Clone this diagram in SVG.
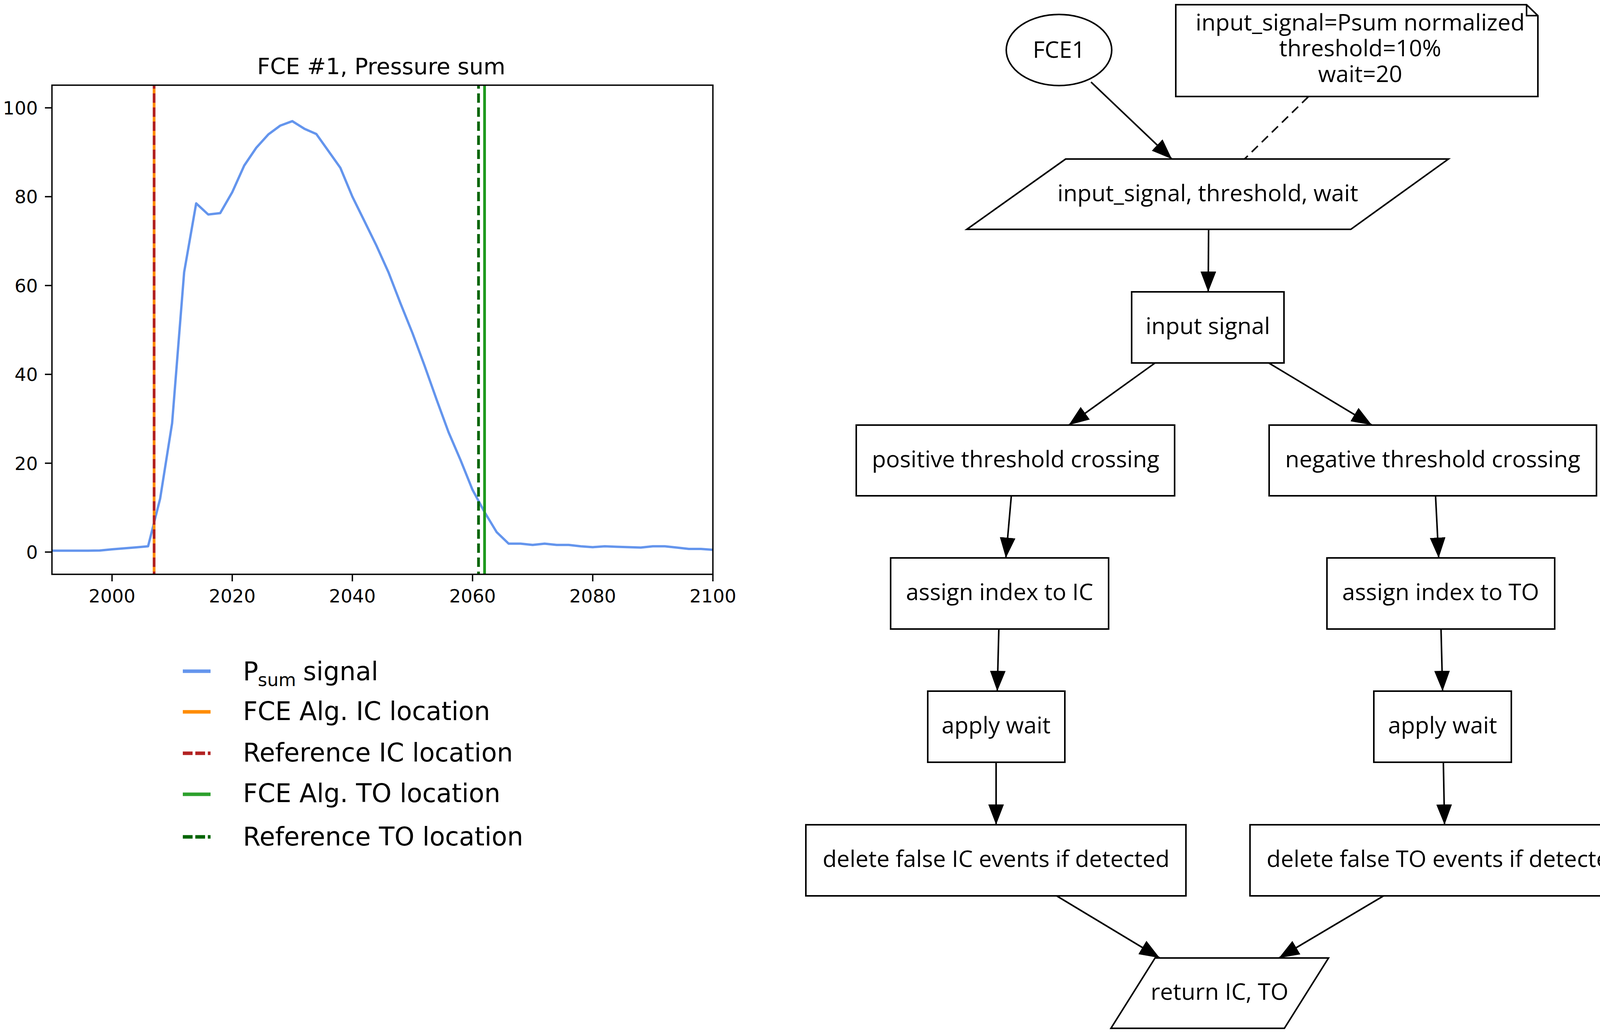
<svg xmlns="http://www.w3.org/2000/svg" width="4206" height="2644" viewBox="0 0 4206 2644">
<style>
.plt{font-family:"DejaVu Sans",sans-serif;fill:#000}
.tick{font-size:47px}
.leg{font-size:65px}
.fc{font-family:"Open Sans","Noto Sans",sans-serif;font-size:59px;text-anchor:middle;fill:#000}
.shape{fill:#fff;stroke:#000;stroke-width:4}
.edge{fill:none;stroke:#000;stroke-width:4}
.ax{fill:none;stroke:#000;stroke-width:3.5}
.vl{stroke-width:7}
.pd{stroke-dasharray:24,12;stroke-dashoffset:15}
.ld{stroke-dasharray:25,7}
</style>
<defs>
<marker id="arr" markerUnits="userSpaceOnUse" markerWidth="54" markerHeight="42" refX="52" refY="20" orient="auto">
<path d="M0,0 L52,20 L0,40 z" fill="#000"/>
</marker>
<clipPath id="axclip"><rect x="133" y="218" width="1692" height="1252"/></clipPath>
</defs>
<rect width="4206" height="2644" fill="#fff"/>

<g id="plot">
<text class="plt" x="976" y="190" font-size="57.5" text-anchor="middle">FCE #1, Pressure sum</text>
<g clip-path="url(#axclip)">
<polyline fill="none" stroke="#6495ed" stroke-width="6" stroke-linejoin="round" points="133,1409.5 163.8,1409.5 194.5,1409.5 225.3,1409.5 256.1,1409 286.8,1406 317.6,1403.5 348.3,1401 379.1,1398.2 409.9,1276.6 440.6,1083.3 471.4,696.7 502.2,520.5 532.9,548.9 563.7,545.5 594.5,492 625.2,423.8 656,378.3 686.8,344.2 717.5,321.5 748.3,310.1 779,329.4 809.8,343.1 840.6,386.3 871.3,429.5 902.1,503.4 932.9,565.9 963.6,628.5 994.4,696.7 1025.2,776.3 1055.9,852.5 1086.7,935.5 1117.4,1021.9 1148.2,1106 1179,1177.6 1209.7,1253.8 1240.5,1310.7 1271.3,1361.8 1302,1391.4 1332.8,1391.4 1363.6,1394.8 1394.3,1391.4 1425.1,1394.8 1455.9,1394.8 1486.6,1398.2 1517.4,1400.5 1548.1,1398.2 1578.9,1399.4 1609.7,1400.5 1640.4,1401.6 1671.2,1398.2 1702,1398.2 1732.7,1401.6 1763.5,1405 1794.3,1405 1825,1407.3"/>
<line class="vl" x1="394.5" y1="218" x2="394.5" y2="1470" stroke="#ff8c00"/>
<line class="vl pd" x1="394.5" y1="218" x2="394.5" y2="1470" stroke="#b22222"/>
<line class="vl" x1="1240.5" y1="218" x2="1240.5" y2="1470" stroke="#1f9a1f"/>
<line class="vl pd" x1="1225" y1="218" x2="1225" y2="1470" stroke="#006400"/>
</g>
<rect class="ax" x="133" y="218" width="1692" height="1252"/>
<g stroke="#000" stroke-width="3.5">
<line x1="115" y1="1413" x2="133" y2="1413"/>
<line x1="115" y1="1185.6" x2="133" y2="1185.6"/>
<line x1="115" y1="958.2" x2="133" y2="958.2"/>
<line x1="115" y1="730.8" x2="133" y2="730.8"/>
<line x1="115" y1="503.4" x2="133" y2="503.4"/>
<line x1="115" y1="276" x2="133" y2="276"/>
<line x1="286.8" y1="1470" x2="286.8" y2="1488"/>
<line x1="594.5" y1="1470" x2="594.5" y2="1488"/>
<line x1="902.1" y1="1470" x2="902.1" y2="1488"/>
<line x1="1209.7" y1="1470" x2="1209.7" y2="1488"/>
<line x1="1517.4" y1="1470" x2="1517.4" y2="1488"/>
<line x1="1825" y1="1470" x2="1825" y2="1488"/>
</g>
<g class="plt tick" text-anchor="end">
<text x="97" y="1430">0</text>
<text x="97" y="1202.6">20</text>
<text x="97" y="975.2">40</text>
<text x="97" y="747.8">60</text>
<text x="97" y="520.4">80</text>
<text x="97" y="293">100</text>
</g>
<g class="plt tick" text-anchor="middle">
<text x="286.8" y="1542">2000</text>
<text x="594.5" y="1542">2020</text>
<text x="902.1" y="1542">2040</text>
<text x="1209.7" y="1542">2060</text>
<text x="1517.4" y="1542">2080</text>
<text x="1825" y="1542">2100</text>
</g>
</g>

<g id="legend">
<line x1="468" y1="1718" x2="539" y2="1718" stroke="#6495ed" stroke-width="9"/>
<line x1="468" y1="1822" x2="539" y2="1822" stroke="#ff8c00" stroke-width="9"/>
<line class="ld" x1="468" y1="1928" x2="539" y2="1928" stroke="#b22222" stroke-width="9"/>
<line x1="468" y1="2033" x2="539" y2="2033" stroke="#2ca02c" stroke-width="9"/>
<line class="ld" x1="468" y1="2142" x2="539" y2="2142" stroke="#006400" stroke-width="9"/>
<text class="plt leg" x="622" y="1741">P</text>
<text class="plt" x="660" y="1756" font-size="46">sum</text>
<text class="plt leg" x="776" y="1741">signal</text>
<text class="plt leg" x="622" y="1843">FCE Alg. IC location</text>
<text class="plt leg" x="622" y="1949">Reference IC location</text>
<text class="plt leg" x="622" y="2053">FCE Alg. TO location</text>
<text class="plt leg" x="622" y="2164">Reference TO location</text>
</g>

<g id="connectors">
<line class="edge" x1="2793" y1="210" x2="3000" y2="407" marker-end="url(#arr)"/>
<line class="edge" x1="3349" y1="248" x2="3186" y2="407" stroke-dasharray="22,14"/>
<line class="edge" x1="3094" y1="587" x2="3093" y2="747" marker-end="url(#arr)"/>
<line class="edge" x1="2957" y1="929" x2="2736" y2="1088" marker-end="url(#arr)"/>
<line class="edge" x1="3248" y1="929" x2="3512" y2="1088" marker-end="url(#arr)"/>
<line class="edge" x1="2589" y1="1269" x2="2575" y2="1428" marker-end="url(#arr)"/>
<line class="edge" x1="3675" y1="1269" x2="3683" y2="1428" marker-end="url(#arr)"/>
<line class="edge" x1="2557" y1="1610" x2="2553" y2="1769" marker-end="url(#arr)"/>
<line class="edge" x1="3689" y1="1610" x2="3693" y2="1769" marker-end="url(#arr)"/>
<line class="edge" x1="2550" y1="1951" x2="2550" y2="2111" marker-end="url(#arr)"/>
<line class="edge" x1="3695" y1="1951" x2="3698" y2="2111" marker-end="url(#arr)"/>
<line class="edge" x1="2705" y1="2293" x2="2969" y2="2452" marker-end="url(#arr)"/>
<line class="edge" x1="3542" y1="2293" x2="3274" y2="2452" marker-end="url(#arr)"/>
</g>

<g id="node-fce1">
<ellipse class="shape" cx="2711" cy="128" rx="135" ry="91"/>
<text class="fc" x="2711" y="148">FCE1</text>
</g>
<g id="node-note">
<polygon class="shape" points="3010,12 3908,12 3937,40 3937,247 3010,247"/>
<polyline class="edge" points="3908,12 3908,40 3937,40"/>
<text class="fc" x="3482" y="78">input_signal=Psum normalized</text>
<text class="fc" x="3482" y="144">threshold=10%</text>
<text class="fc" x="3482" y="210">wait=20</text>
</g>
<g id="node-params">
<polygon class="shape" points="2728,407 3708,407 3458,587 2475,587"/>
<text class="fc" x="3092" y="515">input_signal, threshold, wait</text>
</g>
<g id="node-input">
<rect class="shape" x="2897" y="747" width="390" height="182"/>
<text class="fc" x="3092" y="855">input signal</text>
</g>
<g id="node-pos">
<rect class="shape" x="2192" y="1088" width="815" height="181"/>
<text class="fc" x="2600" y="1196">positive threshold crossing</text>
</g>
<g id="node-neg">
<rect class="shape" x="3249" y="1088" width="838" height="181"/>
<text class="fc" x="3668" y="1196">negative threshold crossing</text>
</g>
<g id="node-assign-ic">
<rect class="shape" x="2280" y="1428" width="558" height="182"/>
<text class="fc" x="2559" y="1536">assign index to IC</text>
</g>
<g id="node-assign-to">
<rect class="shape" x="3397" y="1428" width="583" height="182"/>
<text class="fc" x="3688" y="1536">assign index to TO</text>
</g>
<g id="node-wait-ic">
<rect class="shape" x="2375" y="1769" width="351" height="182"/>
<text class="fc" x="2550" y="1877">apply wait</text>
</g>
<g id="node-wait-to">
<rect class="shape" x="3517" y="1769" width="352" height="182"/>
<text class="fc" x="3693" y="1877">apply wait</text>
</g>
<g id="node-del-ic">
<rect class="shape" x="2063" y="2111" width="973" height="182"/>
<text class="fc" x="2550" y="2219">delete false IC events if detected</text>
</g>
<g id="node-del-to">
<rect class="shape" x="3200" y="2111" width="998" height="182"/>
<text class="fc" x="3699" y="2219">delete false TO events if detected</text>
</g>
<g id="node-return">
<polygon class="shape" points="2957,2452 3401,2452 3288,2632 2844,2632"/>
<text class="fc" x="3122" y="2559">return IC, TO</text>
</g>
</svg>
